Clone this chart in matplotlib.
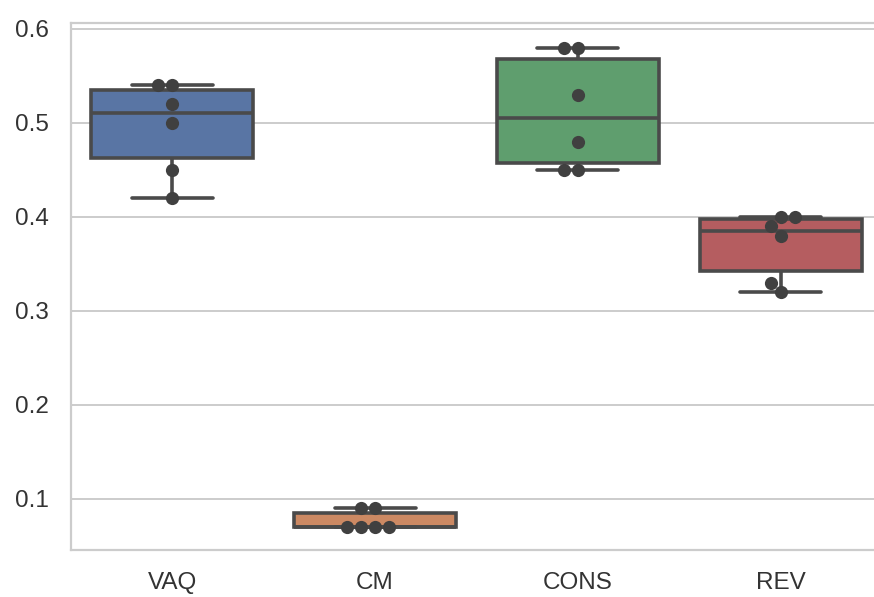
import pandas as pd
import matplotlib
matplotlib.use('Agg')
import matplotlib.pyplot as plt
import seaborn as sns

# Scores per method
categories = ['VAQ', 'CM', 'CONS', 'REV']
vaq = [0.54, 0.54, 0.52, 0.50, 0.45, 0.42]
cm = [0.09, 0.09, 0.07, 0.07, 0.07, 0.07]
cons = [0.58, 0.58, 0.53, 0.48, 0.45, 0.45]
rev = [0.40, 0.40, 0.39, 0.38, 0.33, 0.32]
y_ticks = [0.1, 0.2, 0.3, 0.4, 0.5, 0.6]

# Long format for seaborn
df = pd.DataFrame({
    'method': [c for c, vals in zip(categories, [vaq, cm, cons, rev]) for _ in vals],
    'score': vaq + cm + cons + rev,
})

sns.set_theme(style='whitegrid')
plt.rcParams['font.family'] = ['Liberation Sans', 'DejaVu Sans']

fig = plt.figure(figsize=(8.74, 5.97), dpi=100)
ax = fig.add_axes([0.0812, 0.0787, 0.928, 0.883])

sns.boxplot(data=df, x='method', y='score', order=categories, hue='method',
            palette='deep', saturation=0.75, linecolor='#4a4a4a', linewidth=2.6,
            width=0.8, legend=False, ax=ax)
sns.swarmplot(data=df, x='method', y='score', order=categories, color='.25',
              size=9.5, ax=ax)

# Axis styling
ax.set_ylim(0.0457, 0.6064)
ax.set_yticks(y_ticks)
ax.set_yticklabels([f'{t:.1f}' for t in y_ticks])
ax.set_xlim(-0.5, 3.5)
ax.set_xlabel('')
ax.set_ylabel('')
ax.tick_params(axis='y', labelsize=17.5, pad=16, length=0, labelcolor='#333333')
ax.tick_params(axis='x', labelsize=17.5, pad=16, length=0, labelcolor='#333333')
ax.grid(axis='y', color='#cccccc', linewidth=1.4)
ax.grid(axis='x', visible=False)
for side in ['left', 'bottom', 'top', 'right']:
    ax.spines[side].set_color('#cccccc')
    ax.spines[side].set_linewidth(1.6)

plt.savefig('out.png', dpi=100)
